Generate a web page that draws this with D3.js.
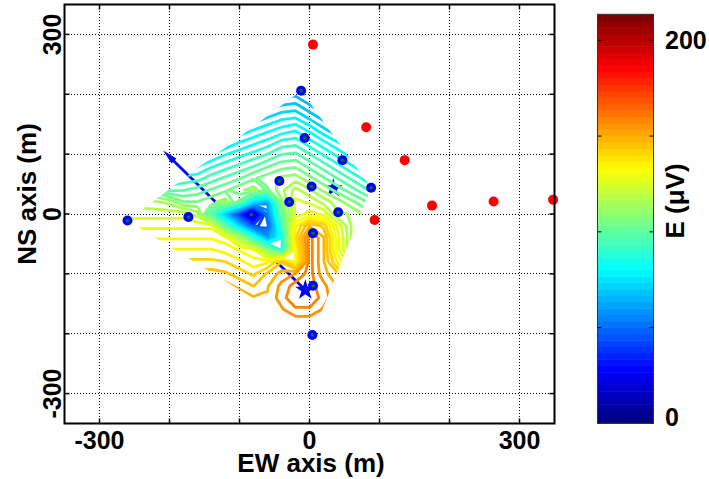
<!DOCTYPE html>
<html>
<head>
<meta charset="utf-8">
<script src="https://cdn.jsdelivr.net/npm/d3@7"></script>
<style>
  body { margin: 0; background: #fff; }
  text { font-family: "Liberation Sans", Arial, sans-serif; font-weight: bold; fill: #000; }
</style>
</head>
<body>
<div class="chart"></div>
<script>
// stations used for the map (m)
var stationX = [-260, -173, -43, -29, -12, -7, 3, 41, 47, 88, 5, 5, 4, -83];
var stationY = [-11, -5, 55, 20, 206, 127, 46, 3, 90, 44, -32, -120, -202, -1];
// stations not used (red)
var redX = [5, 81, 136, 93, 175, 263, 348];
var redY = [283, 145, 90, -10, 14, 21, 24];
// located source and second estimate
var sourceXY = [-6, -127];
var source2XY = [34, 43];
// direction arrow
var arrowFrom = [-6, -127];
var arrowTo = [-209, 106];

// E field (uV), on a 20 m grid
var gridX = [-280, -260, -240, -220, -200, -180, -160, -140, -120, -100, -80, -60, -40, -20, 0, 20, 40, 60, 80, 100, 120];
var gridY = [220, 200, 180, 160, 140, 120, 100, 80, 60, 40, 20, 0, -20, -40, -60, -80, -100, -120, -140, -160, -180, -200, -220];
var gridE = [
  [27, 28, 29, 31, 32, 33, 35, 38, 41, 45, 48, 51, 55, 56, 51, 46, 41, 36, 31, 26, 20],
  [34, 35, 36, 38, 39, 40, 42, 45, 49, 52, 55, 58, 62, 63, 58, 53, 48, 43, 38, 33, 28],
  [41, 42, 44, 45, 46, 48, 49, 53, 56, 59, 62, 66, 69, 70, 65, 60, 55, 50, 45, 40, 35],
  [48, 50, 51, 52, 53, 55, 56, 60, 63, 66, 70, 73, 76, 77, 72, 67, 62, 57, 52, 47, 42],
  [55, 57, 58, 59, 61, 62, 64, 67, 70, 74, 77, 80, 83, 85, 80, 74, 69, 64, 59, 54, 49],
  [63, 64, 65, 67, 68, 69, 71, 74, 77, 81, 84, 87, 91, 92, 87, 82, 77, 72, 67, 62, 56],
  [74, 71, 72, 74, 75, 76, 78, 81, 85, 88, 91, 94, 98, 99, 94, 89, 84, 79, 74, 69, 64],
  [91, 84, 80, 81, 82, 84, 85, 89, 92, 95, 98, 102, 105, 106, 101, 96, 91, 86, 81, 76, 71],
  [106, 101, 94, 88, 89, 91, 92, 96, 99, 102, 106, 109, 112, 113, 108, 103, 98, 93, 88, 83, 78],
  [111, 111, 111, 104, 97, 98, 100, 103, 106, 110, 113, 106, 114, 121, 116, 110, 105, 100, 95, 90, 85],
  [117, 117, 117, 116, 114, 107, 107, 110, 113, 101, 71, 61, 110, 125, 123, 118, 113, 108, 103, 98, 92],
  [122, 122, 122, 122, 122, 122, 117, 95, 65, 34, 5, 53, 101, 125, 130, 127, 116, 115, 110, 105, 100],
  [127, 127, 127, 127, 127, 127, 127, 127, 98, 70, 42, 44, 91, 136, 149, 144, 127, 115, 115, 112, 107],
  [132, 132, 132, 132, 132, 132, 132, 132, 130, 117, 89, 61, 82, 140, 160, 150, 130, 115, 115, 115, 114],
  [137, 137, 137, 137, 137, 137, 137, 137, 135, 132, 129, 108, 84, 135, 160, 150, 130, 115, 115, 115, 115],
  [142, 142, 142, 142, 142, 142, 142, 142, 141, 138, 134, 136, 145, 132, 160, 150, 136, 124, 115, 115, 115],
  [148, 148, 148, 147, 147, 147, 147, 147, 146, 143, 140, 146, 151, 154, 160, 151, 146, 132, 118, 115, 115],
  [153, 153, 153, 153, 153, 153, 153, 152, 151, 148, 145, 149, 155, 160, 160, 155, 149, 138, 122, 115, 115],
  [158, 158, 158, 158, 158, 158, 158, 158, 156, 153, 150, 150, 156, 162, 162, 156, 150, 139, 123, 115, 115],
  [163, 163, 163, 163, 163, 163, 163, 163, 161, 158, 155, 152, 153, 157, 157, 153, 148, 134, 131, 127, 117],
  [168, 168, 168, 168, 168, 168, 168, 168, 166, 163, 160, 157, 154, 151, 151, 149, 142, 139, 136, 133, 130],
  [173, 173, 173, 173, 173, 173, 173, 173, 172, 168, 165, 162, 159, 156, 153, 150, 147, 144, 141, 138, 135],
  [179, 178, 178, 178, 178, 178, 178, 178, 177, 174, 171, 168, 165, 161, 158, 155, 152, 149, 146, 143, 140]
];

var tickValues = [-300, -200, -100, 0, 100, 200, 300];
var tickLabels = [-300, 0, 300];
var cbTicks = [0, 50, 100, 150, 200];
var cbLabels = [0, 200];
var eMax = 213.6;

var svg = d3.select(".chart")
  .append("svg")
  .attr("width", 709)
  .attr("height", 479);

var x = d3.scaleLinear().domain([-350, 350]).range([64.5, 554.5]);
var y = d3.scaleLinear().domain([-350, 350]).range([423.5, 4.5]);

// matlab jet, 64 colours
function clamp(v) { return Math.max(0, Math.min(1, v)); }
function jet(t) {
  return d3.rgb(255 * clamp(1.5 - Math.abs(4 * t - 3)),
                255 * clamp(1.5 - Math.abs(4 * t - 2)),
                255 * clamp(1.5 - Math.abs(4 * t - 1))).toString();
}
function jetValue(v) {
  var i = Math.max(0, Math.min(63, Math.floor(v / eMax * 64)));
  return jet(i / 63);
}

// dotted grid
var grid = svg.append("g")
  .attr("stroke", "#000")
  .attr("stroke-width", 1)
  .attr("stroke-dasharray", "1,2")
  .attr("shape-rendering", "crispEdges");
grid.selectAll(".gx")
  .data(tickValues)
  .enter().append("line")
    .attr("x1", function(d) { return x(d); })
    .attr("x2", function(d) { return x(d); })
    .attr("y1", y(350))
    .attr("y2", y(-350));
grid.selectAll(".gy")
  .data(tickValues)
  .enter().append("line")
    .attr("y1", function(d) { return y(d); })
    .attr("y2", function(d) { return y(d); })
    .attr("x1", x(-350))
    .attr("x2", x(350));

// arrow (under the contours)
var p0 = [x(arrowFrom[0]), y(arrowFrom[1])];
var p1 = [x(arrowTo[0]), y(arrowTo[1])];
var len = Math.hypot(p0[0] - p1[0], p0[1] - p1[1]);
var ux = (p0[0] - p1[0]) / len, uy = (p0[1] - p1[1]) / len;
var headL = 15, headW = 3.5;
svg.append("line")
  .attr("x1", p0[0]).attr("y1", p0[1])
  .attr("x2", p1[0] + ux * headL * 0.8).attr("y2", p1[1] + uy * headL * 0.8)
  .attr("stroke", "#0000ff")
  .attr("stroke-width", 2.8);
svg.append("polygon")
  .attr("points", [
    [p1[0], p1[1]],
    [p1[0] + ux * headL - uy * headW, p1[1] + uy * headL + ux * headW],
    [p1[0] + ux * headL + uy * headW, p1[1] + uy * headL - ux * headW]
  ].map(function(p) { return p.join(","); }).join(" "))
  .attr("fill", "#0000ff");

svg.append("path")
  .attr("d", d3.symbol().type(d3.symbolStar).size(110)())
  .attr("transform", "translate(" + x(source2XY[0]) + "," + y(source2XY[1]) + ")")
  .attr("fill", "#0000ff");

// contours, clipped to the station hull
var hull = d3.polygonHull(stationX.map(function(d, i) { return [x(d), y(stationY[i])]; }));
svg.append("defs").append("clipPath")
  .attr("id", "hull")
  .append("polygon")
    .attr("points", hull.map(function(p) { return p.join(","); }).join(" "));

var n = gridX.length, m = gridY.length;
var levels = d3.range(4.27, eMax, 4.27);
var contours = d3.contours()
  .size([n, m])
  .thresholds(levels)(gridE.flat());

var gxs = d3.scaleLinear().domain([0.5, n - 0.5]).range([gridX[0], gridX[n - 1]]);
var gys = d3.scaleLinear().domain([0.5, m - 0.5]).range([gridY[0], gridY[m - 1]]);
var path = d3.geoPath(d3.geoTransform({
  point: function(px, py) { this.stream.point(x(gxs(px)), y(gys(py))); }
}));

svg.append("g")
  .attr("clip-path", "url(#hull)")
  .selectAll("path")
  .data(contours)
  .enter().append("path")
    .attr("d", path)
    .attr("fill", "none")
    .attr("stroke", function(d) { return jetValue(d.value); })
    .attr("stroke-width", 2.8)
    .attr("stroke-linejoin", "round");

// source star
svg.append("path")
  .attr("d", d3.symbol().type(d3.symbolStar).size(130)())
  .attr("transform", "translate(" + x(sourceXY[0]) + "," + y(sourceXY[1]) + ")")
  .attr("fill", "#0000ff");

// stations
var st = svg.append("g");
st.selectAll(".st")
  .data(stationX)
  .enter().append("circle")
    .attr("cx", function(d) { return x(d); })
    .attr("cy", function(d, i) { return y(stationY[i]); })
    .attr("r", 5)
    .attr("fill", "#0000ff");
st.selectAll(".dot")
  .data(stationX)
  .enter().append("circle")
    .attr("cx", function(d) { return x(d); })
    .attr("cy", function(d, i) { return y(stationY[i]); })
    .attr("r", 1.7)
    .attr("fill", "#008000");

svg.append("g").selectAll("circle")
  .data(redX)
  .enter().append("circle")
    .attr("cx", function(d) { return x(d); })
    .attr("cy", function(d, i) { return y(redY[i]); })
    .attr("r", 5)
    .attr("fill", "#ff0000");

// axes box + inward ticks
var ax = svg.append("g").attr("stroke", "#000").attr("stroke-width", 1.5);
tickValues.forEach(function(t) {
  ax.append("line").attr("x1", x(t)).attr("x2", x(t)).attr("y1", y(-350)).attr("y2", y(-350) - 5);
  ax.append("line").attr("x1", x(t)).attr("x2", x(t)).attr("y1", y(350)).attr("y2", y(350) + 5);
  ax.append("line").attr("y1", y(t)).attr("y2", y(t)).attr("x1", x(-350)).attr("x2", x(-350) + 5);
  ax.append("line").attr("y1", y(t)).attr("y2", y(t)).attr("x1", x(350)).attr("x2", x(350) - 5);
});
ax.append("rect")
  .attr("x", x(-350)).attr("y", y(350))
  .attr("width", x(350) - x(-350)).attr("height", y(-350) - y(350))
  .attr("fill", "none")
  .attr("stroke-width", 2);

svg.selectAll(".xl")
  .data(tickLabels)
  .enter().append("text")
    .attr("x", function(d) { return x(d); })
    .attr("y", 449)
    .attr("text-anchor", "middle")
    .style("font-size", "25px")
    .text(function(d) { return d; });
svg.selectAll(".yl")
  .data(tickLabels)
  .enter().append("text")
    .attr("transform", function(d) { return "translate(61," + y(d) + ") rotate(-90)"; })
    .attr("text-anchor", "middle")
    .style("font-size", "25px")
    .text(function(d) { return d; });

svg.append("text")
  .attr("x", 311).attr("y", 472)
  .attr("text-anchor", "middle")
  .style("font-size", "26px")
  .text("EW axis (m)");
svg.append("text")
  .attr("transform", "translate(36,194) rotate(-90)")
  .attr("text-anchor", "middle")
  .style("font-size", "26px")
  .text("NS axis (m)");

// colorbar
var cb = d3.scaleLinear().domain([0, eMax]).range([423.3, 14.3]);
var cbX = 597.5, cbW = 56;
svg.append("g").selectAll("rect")
  .data(d3.range(64))
  .enter().append("rect")
    .attr("x", cbX)
    .attr("width", cbW)
    .attr("y", function(i) { return cb((i + 1) * eMax / 64); })
    .attr("height", function(i) { return cb(i * eMax / 64) - cb((i + 1) * eMax / 64) + 0.5; })
    .attr("fill", function(i) { return jet(i / 63); });
var cba = svg.append("g").attr("stroke", "#000").attr("stroke-width", 1);
cbTicks.forEach(function(t) {
  cba.append("line").attr("x1", cbX).attr("x2", cbX + 4).attr("y1", cb(t)).attr("y2", cb(t));
  cba.append("line").attr("x1", cbX + cbW).attr("x2", cbX + cbW - 4).attr("y1", cb(t)).attr("y2", cb(t));
});
cba.append("rect")
  .attr("x", cbX).attr("y", cb(eMax))
  .attr("width", cbW).attr("height", cb(0) - cb(eMax))
  .attr("fill", "none")
  .attr("stroke", "#333");
svg.selectAll(".cbl")
  .data(cbLabels)
  .enter().append("text")
    .attr("x", 665)
    .attr("y", function(d) { return d === 0 ? cb(d) + 3 : cb(d) + 9; })
    .style("font-size", "25px")
    .text(function(d) { return d; });
svg.append("text")
  .attr("transform", "translate(684,201) rotate(-90)")
  .attr("text-anchor", "middle")
  .style("font-size", "26px")
  .text("E (μV)");
</script>
</body>
</html>
